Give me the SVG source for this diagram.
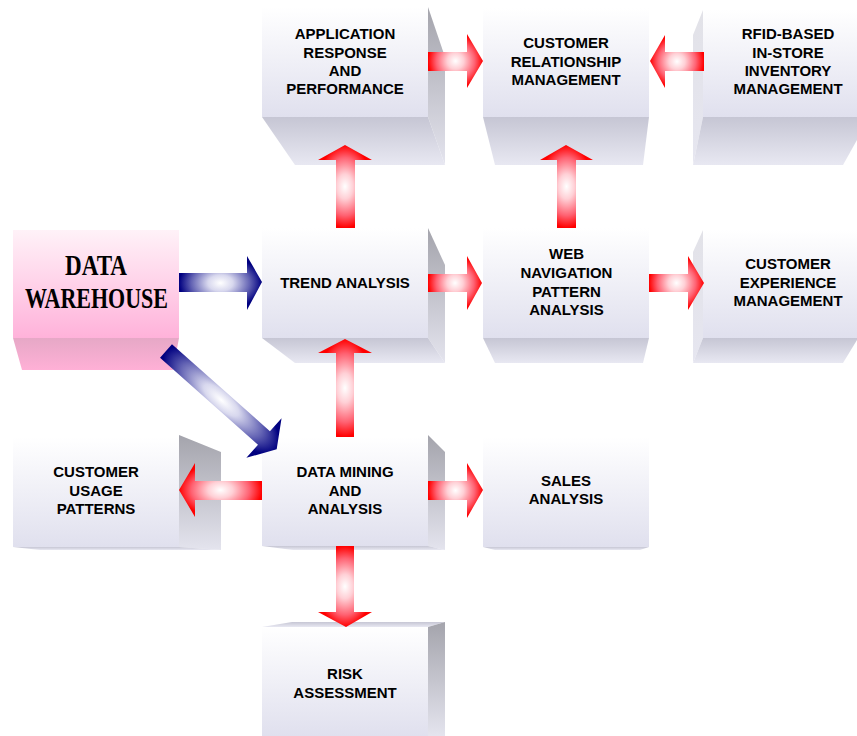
<svg xmlns="http://www.w3.org/2000/svg" width="857" height="736" viewBox="0 0 857 736">
<defs>
<linearGradient id="gFront" x1="0" y1="0" x2="0" y2="1"><stop offset="0" stop-color="#ffffff"/><stop offset="1" stop-color="#e0e0ee"/></linearGradient>
<linearGradient id="gBottom" x1="0" y1="0" x2="0" y2="1"><stop offset="0" stop-color="#c6c6d4"/><stop offset="1" stop-color="#e8e8f2"/></linearGradient>
<linearGradient id="gSide" x1="0" y1="0" x2="0" y2="1"><stop offset="0" stop-color="#a4a4ac"/><stop offset="1" stop-color="#e4e4ee"/></linearGradient>
<linearGradient id="gSideL" x1="0" y1="0" x2="0" y2="1"><stop offset="0" stop-color="#e2e2e8"/><stop offset="1" stop-color="#e6e6f0"/></linearGradient>
<linearGradient id="gPink" x1="0" y1="0" x2="0" y2="1"><stop offset="0" stop-color="#fff2f8"/><stop offset="1" stop-color="#ffb2da"/></linearGradient>
<linearGradient id="gPinkB" x1="0" y1="0" x2="0" y2="1"><stop offset="0" stop-color="#e6a8c6"/><stop offset="1" stop-color="#ffb0d6"/></linearGradient>
<radialGradient id="gRed" cx="0.5" cy="0.5" r="0.5"><stop offset="0" stop-color="#ffffff"/><stop offset="0.3" stop-color="#ffd0d6"/><stop offset="0.7" stop-color="#ff6272"/><stop offset="1" stop-color="#ff0000"/></radialGradient>
<radialGradient id="gBlue" cx="0.5" cy="0.5" r="0.5"><stop offset="0" stop-color="#ffffff"/><stop offset="0.3" stop-color="#d8d8ee"/><stop offset="0.7" stop-color="#6464b4"/><stop offset="1" stop-color="#000080"/></radialGradient>
</defs>
<style>
.front{fill:url(#gFront)}
.bottom{fill:url(#gBottom)}
.side{fill:url(#gSide)}
.sideL{fill:url(#gSideL)}
.lbl{font-family:"Liberation Sans",Arial,sans-serif;font-weight:bold;font-size:15px;fill:#000;text-anchor:middle}
.big{font-family:"Liberation Serif","Times New Roman",serif;font-weight:bold;font-size:30px;fill:#000;text-anchor:middle}
.red{fill:url(#gRed)}
.blue{fill:url(#gBlue)}
</style>
<rect width="857" height="736" fill="#ffffff"/>

<g id="app">
<polygon class="side" points="428,7 445,57 445,165 428,117"/>
<polygon class="bottom" points="262,117 428,117 445,165 295,165"/>
<rect class="front" x="262" y="7" width="166" height="110"/>
<text class="lbl" x="345" y="39.3">APPLICATION</text>
<text class="lbl" x="345" y="57.6">RESPONSE</text>
<text class="lbl" x="345" y="76">AND</text>
<text class="lbl" x="345" y="94.3">PERFORMANCE</text>
</g>

<g id="crm">
<polygon class="bottom" points="483,117 649,117 643,165 495,165"/>
<rect class="front" x="483" y="8" width="166" height="109"/>
<text class="lbl" x="566" y="48.3">CUSTOMER</text>
<text class="lbl" x="566" y="66.7">RELATIONSHIP</text>
<text class="lbl" x="566" y="85">MANAGEMENT</text>
</g>

<g id="rfid">
<polygon class="sideL" points="703,10 693,35 693,165 703,117"/>
<polygon class="bottom" points="703,117 857,117 857,140 843,165 693,165"/>
<rect class="front" x="703" y="10" width="154" height="107"/>
<text class="lbl" x="788" y="39.3">RFID-BASED</text>
<text class="lbl" x="788" y="57.6">IN-STORE</text>
<text class="lbl" x="788" y="76">INVENTORY</text>
<text class="lbl" x="788" y="94.3">MANAGEMENT</text>
</g>

<g id="dw">
<polygon fill="url(#gPinkB)" points="13,338 179,338 173,370 22,370"/>
<rect fill="url(#gPink)" x="13" y="230" width="166" height="108"/>
<text class="big" x="96" y="275" textLength="62" lengthAdjust="spacingAndGlyphs">DATA</text>
<text class="big" x="96.5" y="308" textLength="143" lengthAdjust="spacingAndGlyphs">WAREHOUSE</text>
</g>

<g id="trend">
<polygon class="side" points="428,228 445,265 445,363 428,338"/>
<polygon class="bottom" points="262,338 428,338 445,363 295,363"/>
<rect class="front" x="262" y="228" width="166" height="110"/>
<text class="lbl" x="345" y="288.3">TREND ANALYSIS</text>
</g>

<g id="web">
<polygon class="bottom" points="483,338 649,338 643,363 495,363"/>
<rect class="front" x="483" y="228" width="166" height="110"/>
<text class="lbl" x="566.5" y="259.3">WEB</text>
<text class="lbl" x="566.5" y="278.3">NAVIGATION</text>
<text class="lbl" x="566.5" y="296.7">PATTERN</text>
<text class="lbl" x="566.5" y="315">ANALYSIS</text>
</g>

<g id="cem">
<polygon class="sideL" points="703,230 693,252 693,363 703,338"/>
<polygon class="bottom" points="703,338 857,338 857,340 843,363 693,363"/>
<rect class="front" x="703" y="230" width="154" height="108"/>
<text class="lbl" x="788" y="269.3">CUSTOMER</text>
<text class="lbl" x="788" y="288">EXPERIENCE</text>
<text class="lbl" x="788" y="306.3">MANAGEMENT</text>
</g>

<g id="cup">
<polygon class="side" points="179,435 221,452 221,550 179,547"/>
<polygon class="bottom" points="13,547 179,547 221,550 40,550"/>
<rect class="front" x="13" y="437" width="166" height="110"/>
<text class="lbl" x="96" y="477.3">CUSTOMER</text>
<text class="lbl" x="96" y="496">USAGE</text>
<text class="lbl" x="96" y="514.3">PATTERNS</text>
</g>

<g id="dm">
<polygon class="side" points="428,435 445,452 445,550 428,546"/>
<polygon class="bottom" points="262,546 428,546 445,550 293,550"/>
<rect class="front" x="262" y="437" width="166" height="109"/>
<text class="lbl" x="345" y="477.3">DATA MINING</text>
<text class="lbl" x="345" y="496">AND</text>
<text class="lbl" x="345" y="514.3">ANALYSIS</text>
</g>

<g id="sales">
<polygon class="bottom" points="483,547 649,547 640,550 495,550"/>
<rect class="front" x="483" y="437" width="166" height="110"/>
<text class="lbl" x="566" y="486">SALES</text>
<text class="lbl" x="566" y="504.3">ANALYSIS</text>
</g>

<g id="risk">
<polygon class="bottom" points="262,627 428,627 445,622 292,622"/>
<polygon class="side" points="428,627 445,622 445,736 428,736"/>
<rect class="front" x="262" y="627" width="166" height="109"/>
<text class="lbl" x="345" y="679.3">RISK</text>
<text class="lbl" x="345" y="697.7">ASSESSMENT</text>
</g>

<g id="connectors">
<path class="red" d="M428,52 H467 V34 L483,61 L467,88 V71 H428 Z"/>
<path class="red" d="M704,52 H665 V35 L650,61 L665,88 V71 H704 Z"/>
<path class="red" d="M428,274 H467 V256 L482,283 L467,310 V292 H428 Z"/>
<path class="red" d="M649,274 H688 V256 L704,283 L688,310 V292 H649 Z"/>
<path class="red" d="M428,481 H467 V463 L483,490 L467,518 V500 H428 Z"/>
<path class="red" d="M262,481 H195 V463 L179,490 L195,517 V500 H262 Z"/>
<path class="red" d="M336,228 V160 H318 L345,145 L372,160 H355 V228 Z"/>
<path class="red" d="M557,228 V160 H540 L566,145 L593,160 H576 V228 Z"/>
<path class="red" d="M336,437 V353 H318 L345,339 L372,353 H354 V437 Z"/>
<path class="red" d="M336,546 V612 H318 L346,627 L372,612 H354 V546 Z"/>
<path class="blue" d="M179,273 H247 V256 L262,282 L247,310 V292 H179 Z"/>
<path class="blue" transform="translate(166,351) rotate(41.6)" d="M0,-9 H131 V-26.5 L148,0 L131,26.5 V9 H0 Z"/>
</g>
</svg>
